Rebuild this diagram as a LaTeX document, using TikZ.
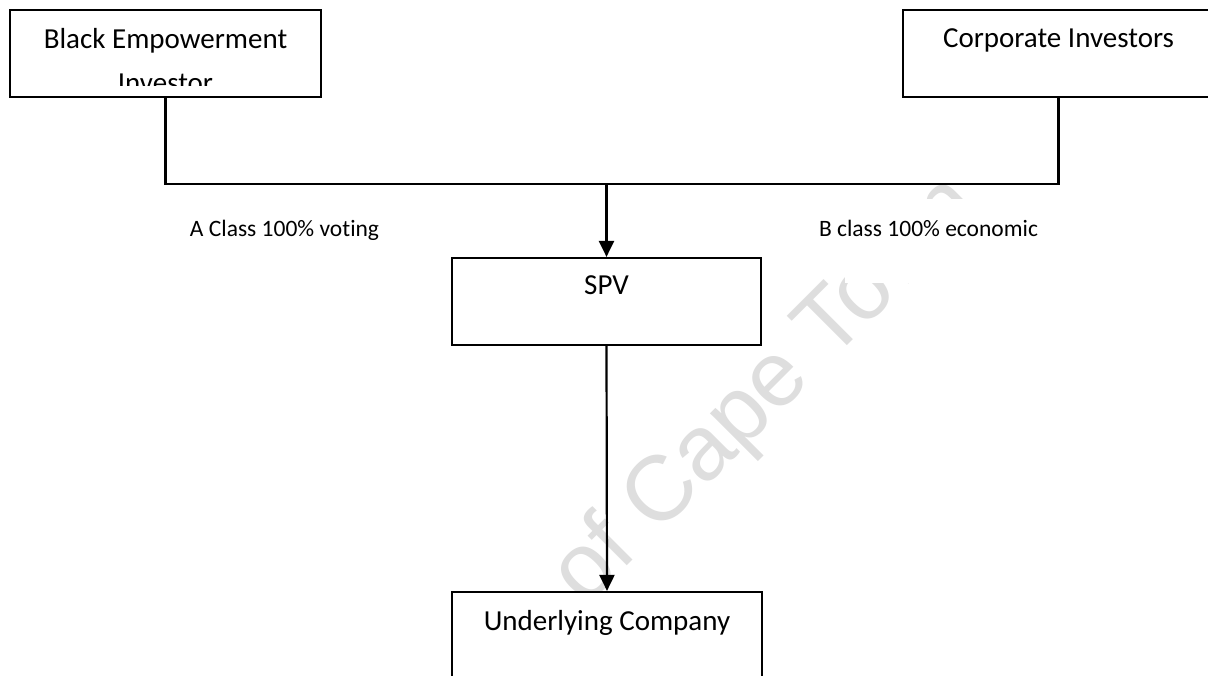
\documentclass[tikz,border=0pt]{standalone}
\usepackage{fontspec}
\setmainfont{Carlito}[Ligatures=NoCommon]
\newfontfamily\wmfont{Liberation Sans}
\usetikzlibrary{arrows.meta}
\begin{document}
\begin{tikzpicture}[x=1pt,y=-1pt,
  box/.style={draw=black, fill=white, line width=2.2pt, rectangle, inner sep=0pt, minimum height=87pt},
  boxtext/.style={font=\fontsize{29}{35}\selectfont, anchor=base, inner sep=0pt},
  lbl/.style={font=\fontsize{23.5}{28}\selectfont, anchor=base, inner sep=0pt},
  wire/.style={line width=2.2pt},
  arr/.style={line width=2.2pt, -{Triangle[length=16pt,width=15pt]}},
  wm/.style={font=\wmfont\fontsize{92}{110}\selectfont, text=black!13, anchor=base west, rotate=45, inner sep=0pt}]
\clip (0,0) rectangle (1208,675);
\fill[white] (0,0) rectangle (1208,675);
% watermark
\node[wm] (wmark) at (585,608) {of Cape Town};
% boxes
\node[box, minimum width=311pt] (bee) at (165.5,53.5) {};
\node[box, minimum width=311pt] (corp) at (1058.5,53.5) {};
\node[box, minimum width=309pt] (spv) at (606.5,301.5) {};
\node[box, minimum width=310pt] (und) at (607,635.5) {};
% white text frame of the right label
\fill[white] (845,199) rectangle (1060,283);
% box texts
\begin{scope}
\clip (bee.north west) rectangle (321,85);
\node[boxtext] (beet1) at (165.5,48) {Black Empowerment};
\node[boxtext] (beet2) at (165.5,92) {Investor};
\end{scope}
\node[boxtext] (corpt) at (1058.5,47) {Corporate Investors};
\node[boxtext] (spvt) at (606.5,294) {SPV};
\node[boxtext] (undt) at (607,630) {Underlying Company};
% labels
\node[lbl] (la) at (284.5,236) {A Class 100\% voting};
\node[lbl] (lb) at (928.5,236) {B class 100\% economic};
% connectors
\coordinate (j) at (606.5,184);
\draw[wire] (bee.south) |- (j) -| (corp.south);
\draw[arr] (j) -- (spv.north);
\draw[arr] (spv.south) -- (und.north);
\end{tikzpicture}
\end{document}
